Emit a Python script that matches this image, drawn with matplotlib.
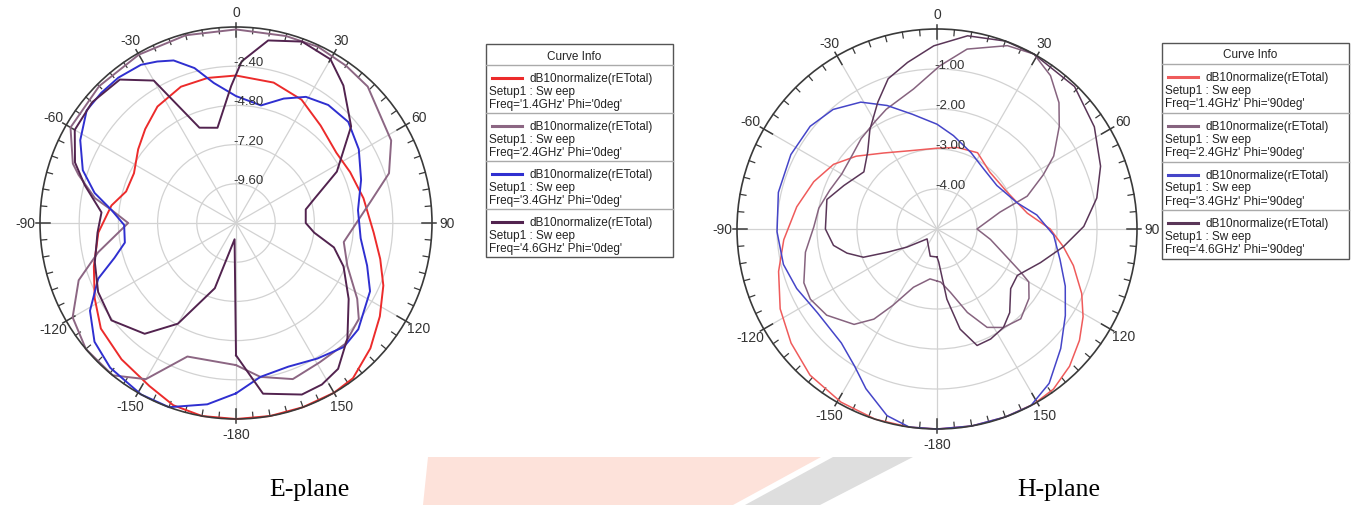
import numpy as np
import matplotlib.pyplot as plt
from matplotlib.patches import Rectangle, Polygon, Wedge

plt.rcParams['font.family'] = ['Liberation Sans', 'DejaVu Sans']

W, H = 1351, 506

# ---- E-plane (Phi = 0deg), dB10normalize(rETotal)
e_red_th = [-180, -170, -161, -152, -140, -128, -118, -107, -94, -82, -74, -64, -53, -44, -34, -22, -11, 0,
            15, 28, 41, 55, 66, 79, 94, 104, 113, 123, 133, 143, 150, 160, 170, 180]
e_red_db = [0, 0, -0.2, -0.7, -1.1, -1.5, -2.2, -2.9, -3.55, -4.3, -5.0, -5.05, -4.5, -4.0, -3.4, -3.0, -2.95, -2.97,
            -3.1, -3.45, -4.1, -4.5, -4.35, -4.05, -3.55, -2.9, -2.2, -1.5, -0.75, -0.1, 0, 0, 0, 0]

e_mauve_th = [-180, -160, -150, -141, -130, -120, -110, -102, -90, -84, -80, -73, -70, -60, -45, -30, -15, 0,
              15, 25, 35, 44, 62, 72, 81, 100, 111, 122, 128, 138, 149, 160, 171, 180]
e_mauve_db = [-3.3, -3.3, -0.96, 0, 0, -0.45, -1.75, -3.37, -5.4, -4.33, -3.23, -1.92, -1.37, -0.3, -0.15, -0.1,
              -0.1, -0.15, -0.15, -0.1, -0.25, -0.39, -1.24, -2.15, -3.66, -5.3, -4.7, -3.25, -2.46, -2.03, -2.05,
              -1.83, -2.46, -3.3]

e_blue_th = [-180, -171, -160, -151, -139, -130, -121, -112, -106, -100, -91, -84, -78, -71, -62, -53, -46, -39, -31,
             -26, -21, -15, -9, 0, 12, 21, 29, 38, 48, 59, 71, 84, 97, 108, 117, 131, 139, 149, 160, 171, 180]
e_blue_db = [-1.57, -0.76, 0, 0, -0.26, -0.69, -1.57, -2.9, -4.26, -5.09, -5.15, -4.33, -3.15, -2.08, -1.2, -0.55, -0.53,
             -0.55, -0.7, -1.0, -1.34, -2.18, -3.32, -4.23, -4.64, -3.84, -3.17, -2.83, -2.75, -3.23, -3.9, -4.49,
             -4.31, -3.56, -2.79, -2.08, -1.94, -2.32, -2.64, -2.46, -1.57]

e_dark_th = [-180, -175, -162, -150, -140.5, -128, -116.6, -105.5, -94, -85.5, -76, -69.4, -60, -50, -39, -30, -21,
             -11, -2, 2, 10, 20, 30, 38, 50, 63, 73, 79, 90, 97, 104, 112, 124, 136, 145, 152, 159, 171, 180]
e_dark_db = [-3.9, -11.0, -7.8, -4.88, -3.21, -2.32, -2.56, -3.03, -3.5, -3.74, -2.46, -1.47, -0.6, -0.5, -0.7,
             -1.93, -5.75, -6.06, -3.6, -2.1, -0.65, -0.18, -0.43, -1.32, -2.8, -5.07, -7.0, -7.65, -7.73, -7.18,
             -5.82, -4.9, -3.68, -2.18, -1.1, -0.8, -0.75, -1.42, -3.9]

# ---- H-plane (Phi = 90deg)
h_red_th = [-180, -172, -162, -151, -139, -128, -117, -105, -94, -81, -69, -58, -48, -35, -19, 0, 14, 28, 43, 62,
            80, 90, 98, 105, 114, 121, 128, 136, 144, 151, 160, 170, 180]
h_red_db = [0, 0, 0, -0.05, -0.16, -0.37, -0.6, -0.9, -1.16, -1.45, -1.7, -1.95, -2.28, -2.68, -2.93, -2.98, -2.9,
            -2.84, -3.06, -3.02, -2.71, -2.17, -1.81, -1.47, -1.04, -0.74, -0.48, -0.23, -0.05, 0, 0, 0, 0]

h_blue_th = [-180, -172, -165, -156, -149, -140, -125, -113, -103, -91, -77, -63, -51, -41, -31, -22, -12, 0, 10,
             24, 38, 54, 72, 82, 93, 104, 114, 124, 134, 144, 152, 160, 170, 180]
h_blue_db = [0, 0, -0.17, -0.63, -1.0, -1.28, -1.35, -1.19, -1.06, -1.0, -0.93, -0.9, -0.92, -1.04, -1.3, -1.67,
             -2.07, -2.38, -2.63, -2.91, -3.1, -3.15, -2.89, -2.48, -2.08, -1.83, -1.49, -1.13, -0.7, -0.23, 0, 0,
             0, 0]

h_mauve_th = [-180, -172, -158, -150, -145, -139, -128, -119, -112, -100, -89, -80, -70, -60, -50, -40, -30, -23,
              -9.5, 1, 9.5, 21, 29, 36.5, 44, 50, 58, 63, 70, 75, 90, 101, 112, 117, 120, 127, 137, 146, 153, 160,
              168, 176, 180]
h_mauve_db = [-3.7, -3.74, -3.43, -2.8, -2.25, -1.84, -1.5, -1.38, -1.41, -1.66, -1.92, -2.0, -2.15, -2.25, -2.2,
              -2.05, -1.9, -1.75, -1.45, -0.92, -0.44, -0.09, 0, -0.23, -0.61, -1.01, -1.56, -2.02, -2.6, -3.37,
              -4.0, -3.64, -3.11, -2.67, -2.35, -2.12, -1.93, -2.03, -2.24, -2.78, -3.38, -3.67, -3.7]

h_dark_th = [-180, -166, -135, -121, -115, -111, -105, -99, -90, -75, -65, -52, -42, -34, -25, -18, -10, -1, 9, 20,
             29, 44, 57, 69, 79, 89, 98, 108, 120, 129, 139, 146, 154, 161, 167, 172, 177, 180]
h_dark_db = [-4.3, -4.3, -4.65, -4.12, -3.62, -3.03, -2.67, -2.38, -2.21, -2.15, -2.43, -2.68, -2.41, -2.0, -1.5,
             -1.05, -0.77, -0.42, -0.11, 0, 0, -0.05, -0.31, -0.62, -0.93, -1.33, -1.81, -2.28, -2.68, -2.63, -2.23,
             -2.03, -1.94, -1.92, -2.43, -3.23, -4.17, -4.3]

freq_labels = ['1.4GHz', '2.4GHz', '3.4GHz', '4.6GHz']
e_rings = [-9.6, -7.2, -4.8, -2.4]
h_rings = [-4.0, -3.0, -2.0, -1.0]
angle_ticks = [0, 30, 60, 90, 120, 150, 180, 210, 240, 270, 300, 330]
angle_labels = ['0', '30', '60', '90', '120', '150', '-180', '-150', '-120', '-90', '-60', '-30']

e_colors = ['#ec2b2b', '#8c6683', '#2f2fd0', '#52234f']
h_colors = ['#ef5b5b', '#86637f', '#4545c8', '#5a3658']


def polar_panel(fig, rect, rmin, rings, curves, colors, radius_px, lw):
    ax = fig.add_axes(rect, projection='polar')
    ax.set_theta_zero_location('N')
    ax.set_theta_direction(-1)
    ax.set_ylim(rmin, 0)
    ax.set_xticks(np.radians(angle_ticks))
    ax.set_xticklabels([])
    ax.set_yticks(rings)
    ax.set_yticklabels([])
    ax.grid(True, color='#d2d2d2', lw=0.9)
    ax.spines['polar'].set_color('#3a3a3a')
    ax.spines['polar'].set_linewidth(1.2)

    px = -rmin / radius_px  # dB per pixel
    # tick marks round the outer circle
    for d in range(0, 360, 5):
        t = np.radians(d)
        if d % 30 == 0:
            ax.plot([t, t], [4 * px, -10 * px], color='#3a3a3a', lw=1.1, clip_on=False)
        else:
            ax.plot([t, t], [0, -6 * px], color='#3a3a3a', lw=0.9, clip_on=False)
    for d, lab in zip(angle_ticks, angle_labels):
        ax.text(np.radians(d), 15 * px, lab, ha='center', va='center', fontsize=10, color='#333333')
    for r in rings:
        ax.annotate('%.2f' % r, xy=(0, r), xytext=(13, 4), textcoords='offset pixels',
                    ha='center', va='center', fontsize=9.5, color='#333333')

    for (th, db), c in zip(curves, colors):
        ax.plot(np.radians(th), db, color=c, lw=lw, clip_on=False)
    return ax


def legend_box(fig, x0, y0, x1, y1, colors, phi):
    # pixel coords measured from top-left corner
    def fx(x):
        return x / W

    def fy(y):
        return 1 - y / H

    fig.patches.append(Rectangle((fx(x0), fy(y1)), fx(x1 - x0), (y1 - y0) / H, transform=fig.transFigure,
                                 fill=False, ec='#555555', lw=1.0))
    title_h = 21
    fig.text(fx((x0 + x1) / 2 - 5), fy(y0 + title_h / 2 + 1), 'Curve Info', ha='center', va='center',
             fontsize=8.5, color='#222222')
    fig.lines.append(plt.Line2D([fx(x0), fx(x1)], [fy(y0 + title_h)] * 2, transform=fig.transFigure,
                                color='#aaaaaa', lw=1.0))
    row_h = (y1 - y0 - title_h) / 4
    for i, (c, f) in enumerate(zip(colors, freq_labels)):
        top = y0 + title_h + i * row_h
        if i > 0:
            fig.lines.append(plt.Line2D([fx(x0), fx(x1)], [fy(top)] * 2, transform=fig.transFigure,
                                        color='#aaaaaa', lw=1.0))
        fig.lines.append(plt.Line2D([fx(x0 + 6), fx(x0 + 36)], [fy(top + 13)] * 2, transform=fig.transFigure,
                                    color=c, lw=2.2))
        fig.text(fx(x0 + 43), fy(top + 13), 'dB10normalize(rETotal)', ha='left', va='center', fontsize=8.5,
                 color='#222222')
        fig.text(fx(x0 + 3), fy(top + 26), 'Setup1 : Sw eep', ha='left', va='center', fontsize=8.5,
                 color='#222222')
        fig.text(fx(x0 + 3), fy(top + 39), "Freq='%s' Phi='%sdeg'" % (f, phi), ha='left', va='center',
                 fontsize=8.5, color='#222222')


fig = plt.figure(figsize=(W / 100, H / 100), dpi=100)
fig.patch.set_facecolor('white')

# faint watermark behind the captions
fig.patches.append(Polygon([(423 / W, 0), (428 / W, 1 - 458 / H), (821 / W, 1 - 458 / H), (733 / W, 0)],
                           closed=True, transform=fig.transFigure, fc='#fde2da', ec='none', zorder=0))
fig.patches.append(Polygon([(833 / W, 1 - 458 / H), (913 / W, 1 - 458 / H), (820 / W, 0), (745 / W, 0)],
                           closed=True, transform=fig.transFigure, fc='#dedede', ec='none', zorder=0))
fig.patches.append(Wedge((960 / W, 1 - 545 / H), 62 / W, 25, 150, width=14 / W, transform=fig.transFigure,
                         fc='#e2e2e2', ec='none', zorder=0))

e_curves = [(e_red_th, e_red_db), (e_mauve_th, e_mauve_db), (e_blue_th, e_blue_db), (e_dark_th, e_dark_db)]
h_curves = [(h_red_th, h_red_db), (h_mauve_th, h_mauve_db), (h_blue_th, h_blue_db), (h_dark_th, h_dark_db)]

polar_panel(fig, [40 / W, 1 - 420 / H, 392 / W, 392 / H], -12, e_rings, e_curves, e_colors, 196, 1.4)
polar_panel(fig, [737 / W, 1 - 430 / H, 400 / W, 400 / H], -5, h_rings, h_curves, h_colors, 200, 1.1)

legend_box(fig, 486, 45, 673, 258, e_colors, '0')
legend_box(fig, 1162, 44, 1349, 260, h_colors, '90')

fig.text(309 / W, 1 - 490 / H, 'E-plane', ha='center', va='center', fontsize=18.5, family='Liberation Serif')
fig.text(1059 / W, 1 - 490 / H, 'H-plane', ha='center', va='center', fontsize=18.5, family='Liberation Serif')

fig.savefig('out.png', dpi=100)
